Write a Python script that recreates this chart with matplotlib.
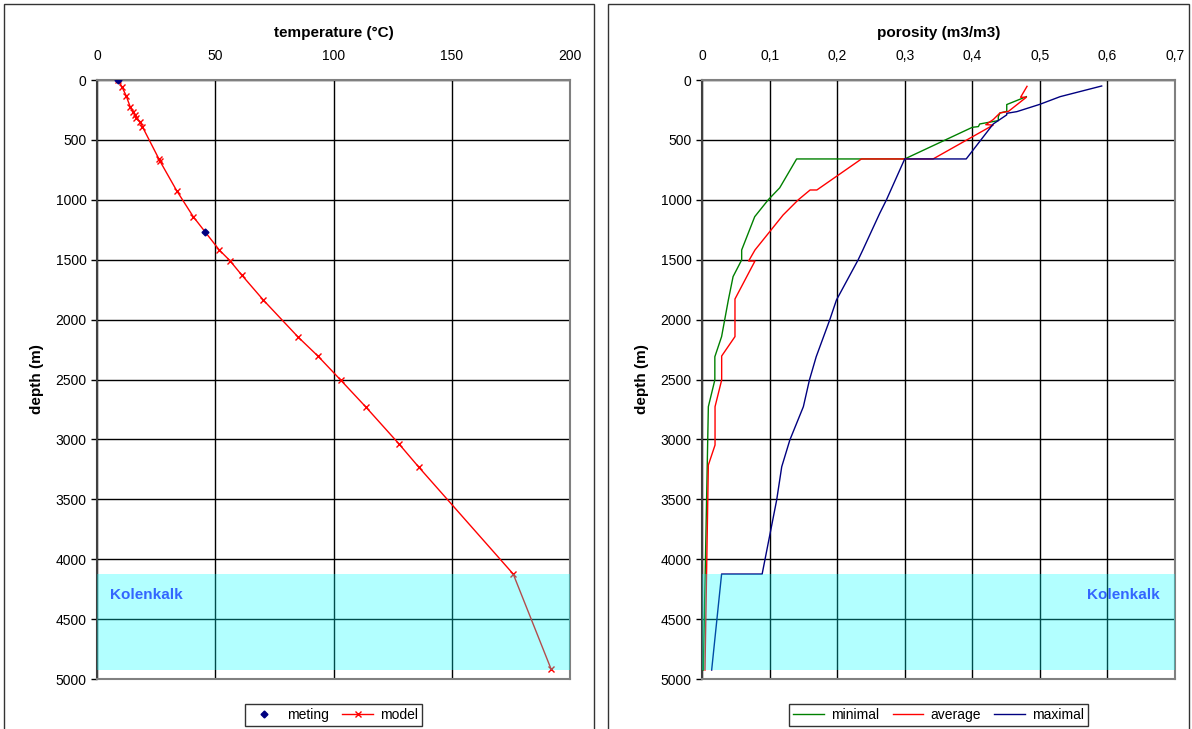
import matplotlib
matplotlib.use("Agg")
import matplotlib.pyplot as plt
from matplotlib.patches import Rectangle

plt.rcParams['font.family'] = ['Liberation Sans', 'DejaVu Sans']

# ---- data ----
meting_temp = [9, 45.5]
meting_depth = [0, 1269]

model_temp = [9, 10.5, 12.3, 14.0, 15.4, 16.1, 16.7, 18.2, 19.2, 26.2, 26.5, 33.7, 40.7,
              51.7, 56.2, 61.2, 70.3, 85.0, 93.4, 103.0, 113.7, 127.7, 136.0, 176.0, 192.0]
model_depth = [0, 56, 130, 222, 264, 292, 320, 347, 390, 660, 673, 924, 1141,
               1419, 1508, 1628, 1836, 2145, 2304, 2504, 2730, 3038, 3230, 4124, 4917]

min_por = [0.480, 0.451, 0.451, 0.441, 0.4385, 0.4385, 0.411, 0.409, 0.400, 0.300, 0.140,
           0.115, 0.098, 0.078, 0.0587, 0.0587, 0.046, 0.039, 0.029, 0.019, 0.019, 0.0094, 0.002]
min_depth = [139, 205, 262, 275, 306, 339, 367, 389, 395, 659, 659,
             900, 1000, 1141, 1419, 1502, 1641, 1836, 2142, 2310, 2504, 2727, 4925]

avg_por = [0.481, 0.4715, 0.480, 0.4535, 0.441, 0.431, 0.420, 0.431, 0.342, 0.236,
           0.170, 0.160, 0.1425, 0.120, 0.0784, 0.069, 0.0784, 0.0488, 0.0488, 0.0291,
           0.0291, 0.0193, 0.0193, 0.0094, 0.0044]
avg_depth = [53, 144, 144, 262, 275, 330, 373, 376, 659, 659,
             918, 918, 1000, 1127, 1419, 1511, 1511, 1828, 2142, 2304,
             2504, 2727, 3047, 3214, 4925]

max_por = [0.5915, 0.530, 0.500, 0.466, 0.451, 0.451, 0.431, 0.391, 0.300, 0.273, 0.263,
           0.238, 0.231, 0.199, 0.189, 0.169, 0.159, 0.150, 0.130, 0.118, 0.1105, 0.089,
           0.029, 0.0143]
max_depth = [50, 139, 203, 264, 278, 291, 367, 659, 659, 1000, 1113,
             1419, 1502, 1836, 2003, 2310, 2504, 2727, 3005, 3228, 3506, 4124,
             4124, 4925]

kolenkalk_top, kolenkalk_bottom = 4124, 4925
temp_ticks = [0, 50, 100, 150, 200]
por_ticks = [0, 0.1, 0.2, 0.3, 0.4, 0.5, 0.6, 0.7]
por_labels = ['0', '0,1', '0,2', '0,3', '0,4', '0,5', '0,6', '0,7']
depth_ticks = [0, 500, 1000, 1500, 2000, 2500, 3000, 3500, 4000, 4500, 5000]

W, H = 1192, 729
fig = plt.figure(figsize=(W / 100, H / 100), dpi=100)

# panel boxes
for x0, x1 in [(4, 594), (608, 1189)]:
    fig.patches.append(Rectangle((x0 / W, -0.01), (x1 - x0) / W, (H - 4) / H + 0.01,
                                 transform=fig.transFigure, fill=False,
                                 edgecolor='#333333', lw=1.0))

def make_axes(left_px):
    ax = fig.add_axes([left_px / W, (H - 679) / H, 473 / W, 599 / H])
    ax.set_ylim(5000, 0)
    ax.set_yticks(depth_ticks)
    ax.xaxis.tick_top()
    ax.xaxis.set_label_position('top')
    ax.grid(True, color='black', lw=1.0)
    ax.set_axisbelow(True)
    for s in ax.spines.values():
        s.set_color('#808080')
        s.set_linewidth(1.5)
    ax.spines['left'].set_color('#404040')
    ax.tick_params(axis='both', labelsize=10, colors='black', length=4, width=1, direction='out')
    ax.tick_params(axis='x', length=0, pad=12)
    ax.set_ylabel('depth (m)', fontsize=11, fontweight='bold', labelpad=8)
    return ax

band_color = (0.0, 1.0, 1.0, 0.30)

# ---- left: temperature ----
ax1 = make_axes(97)
ax1.set_xlim(0, 200)
ax1.set_xticks(temp_ticks)
ax1.set_xlabel('temperature (°C)', fontsize=11, fontweight='bold', labelpad=9)
ax1.plot(meting_temp, meting_depth, linestyle='none', marker='D', ms=3.5,
         color='#000080', label='meting', zorder=4)
ax1.plot(model_temp, model_depth, color='red', lw=1, marker='x', ms=5, mew=1,
         label='model', zorder=3)
ax1.axhspan(kolenkalk_top, kolenkalk_bottom, color=band_color, lw=0, zorder=5)
ax1.text(5.5, 4300, 'Kolenkalk', color='#3366FF', fontsize=11, fontweight='bold',
         va='center', ha='left', zorder=6)
leg1 = ax1.legend(loc='upper center', bbox_to_anchor=(0.5, -0.03), ncol=2, frameon=True,
                  fancybox=False, edgecolor='black', fontsize=10, handlelength=2.2,
                  columnspacing=1.0, handletextpad=0.5, borderpad=0.3)
leg1.get_frame().set_linewidth(1.0)

# ---- right: porosity ----
ax2 = make_axes(702)
ax2.set_xlim(0, 0.7)
ax2.set_xticks(por_ticks)
ax2.set_xticklabels(por_labels)
ax2.set_xlabel('porosity (m3/m3)', fontsize=11, fontweight='bold', labelpad=9)
ax2.plot(min_por, min_depth, color='green', lw=1, label='minimal', zorder=3)
ax2.plot(avg_por, avg_depth, color='red', lw=1, label='average', zorder=3)
ax2.plot(max_por, max_depth, color='#000080', lw=1, label='maximal', zorder=3)
ax2.axhspan(kolenkalk_top, kolenkalk_bottom, color=band_color, lw=0, zorder=5)
ax2.text(0.678, 4300, 'Kolenkalk', color='#3366FF', fontsize=11, fontweight='bold',
         va='center', ha='right', zorder=6)
leg2 = ax2.legend(loc='upper center', bbox_to_anchor=(0.5, -0.03), ncol=3, frameon=True,
                  fancybox=False, edgecolor='black', fontsize=10, handlelength=2.2,
                  columnspacing=1.0, handletextpad=0.5, borderpad=0.3)
leg2.get_frame().set_linewidth(1.0)

fig.savefig('out.png', dpi=100)
